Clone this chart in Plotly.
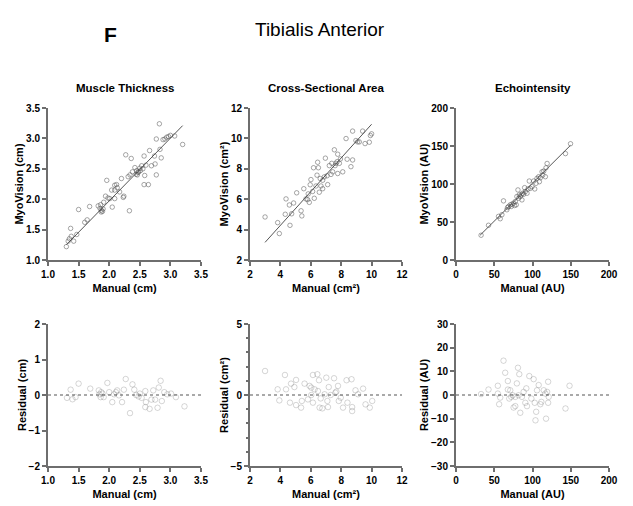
import plotly.graph_objects as go

FONT = "Arial, Liberation Sans, sans-serif"

# ---- Muscle Thickness (cm) ----
mt_manual = [1.30, 1.37, 1.35, 1.38, 1.42, 1.33, 1.47, 1.50, 1.68, 1.60, 1.64, 1.82, 1.85, 1.87,
             1.91, 1.96, 1.94, 1.98, 2.01, 2.05, 2.04, 2.09, 2.12, 2.13, 2.17, 2.23, 2.24, 2.20,
             2.27, 2.33, 2.36, 2.38, 2.42, 2.45, 2.47, 2.50, 2.53, 2.57, 2.58, 2.57, 2.64, 2.66,
             2.69, 2.74, 2.75, 2.77, 2.77, 2.82, 2.83, 2.85, 2.88, 2.91, 2.94, 2.97, 3.00, 3.07,
             3.20, 2.31, 2.34, 2.09, 1.90, 1.86, 2.09, 2.44, 2.48, 2.46, 2.51, 1.87, 1.89, 2.55, 2.60]
mt_myo = [1.22, 1.52, 1.35, 1.39, 1.31, 1.31, 1.42, 1.83, 1.88, 1.62, 1.66, 1.89, 1.85, 1.79,
          1.95, 2.31, 2.05, 2.02, 2.01, 1.87, 2.15, 2.15, 2.24, 2.19, 2.12, 2.03, 2.05, 2.34,
          2.73, 1.81, 2.67, 2.45, 2.52, 2.47, 2.44, 2.51, 2.55, 2.71, 2.39, 2.24, 2.24, 2.80,
          2.55, 2.71, 2.58, 2.40, 2.99, 3.24, 2.82, 2.68, 2.98, 2.99, 3.02, 3.03, 3.05, 3.04,
          2.90, 2.37, 2.40, 2.01, 1.84, 1.91, 2.23, 2.41, 2.45, 2.40, 2.47, 1.82, 1.80, 2.50, 2.56]
mt_fit_x = [1.30, 3.20]
mt_fit_y = [1.25, 3.21]
mt_res_x = [1.31, 1.37, 1.40, 1.45, 1.50, 1.69, 1.83, 1.86, 1.89, 1.91, 1.97, 2.00, 2.05, 2.08,
            2.11, 2.13, 2.16, 2.21, 2.24, 2.27, 2.34, 2.38, 2.41, 2.44, 2.48, 2.50, 2.53, 2.59,
            2.59, 2.60, 2.66, 2.69, 2.72, 2.75, 2.79, 2.81, 2.84, 2.86, 2.90, 2.95, 3.01, 3.09,
            3.23, 1.84, 1.87]
mt_res = [-0.08, 0.15, -0.12, -0.06, 0.32, 0.18, 0.13, -0.06, 0.04, -0.06, 0.34, 0.08, -0.20, 0.02,
          0.08, 0.13, -0.01, -0.20, 0.15, 0.45, -0.51, 0.30, 0.15, 0.00, -0.04, 0.04, -0.08, 0.11,
          -0.34, -0.20, -0.39, -0.13, 0.13, -0.13, -0.36, 0.21, 0.40, -0.17, 0.08, 0.02, 0.04, -0.06,
          -0.32, 0.02, 0.08]

# ---- Cross-Sectional Area (cm²) ----
csa_manual = [2.99, 3.82, 3.93, 4.32, 4.37, 4.59, 4.87, 4.74, 4.63, 5.07, 5.36, 5.41, 5.54, 5.79,
              5.83, 5.96, 6.01, 6.12, 6.18, 6.34, 6.41, 6.45, 6.50, 6.56, 6.67, 6.62, 6.78, 6.89,
              6.96, 7.07, 7.22, 7.33, 7.44, 7.55, 7.60, 7.66, 7.77, 7.73, 7.88, 7.95, 7.77, 8.10,
              8.32, 8.39, 8.64, 8.75, 8.75, 8.97, 9.08, 9.41, 9.57, 9.85, 9.92, 10.00, 9.19, 6.23,
              5.90, 5.68, 7.11, 7.38, 6.78]
csa_myo = [4.83, 4.46, 3.74, 5.01, 6.02, 5.62, 5.75, 5.04, 4.28, 6.42, 5.24, 4.90, 6.69, 5.97,
           6.35, 6.95, 7.29, 6.51, 8.07, 6.87, 7.58, 8.43, 8.07, 6.46, 6.87, 7.36, 7.25, 7.47,
           8.70, 7.54, 8.21, 7.63, 7.80, 9.25, 8.21, 8.36, 8.96, 8.47, 8.36, 8.65, 7.69, 7.80,
           9.99, 8.63, 8.14, 10.48, 8.58, 9.86, 9.77, 10.48, 9.66, 9.75, 10.19, 10.30, 9.77, 6.06,
           5.79, 6.02, 6.96, 8.36, 6.69]
csa_fit_x = [2.99, 10.00]
csa_fit_y = [3.16, 10.93]
csa_res_x = [2.99, 3.82, 3.93, 4.30, 4.37, 4.63, 4.70, 4.92, 5.03, 5.03, 5.36, 5.41, 5.59, 5.81,
             5.92, 6.03, 6.14, 6.14, 6.25, 6.43, 6.47, 6.54, 6.58, 6.65, 6.76, 6.91, 7.02, 7.09,
             7.18, 7.31, 7.53, 7.62, 7.68, 7.79, 7.84, 7.97, 8.12, 8.35, 8.41, 8.68, 8.72, 8.72,
             8.94, 9.11, 9.44, 9.60, 9.88, 10.04, 7.13, 6.03]
csa_res = [1.69, 0.40, -0.38, 1.41, 0.40, -0.54, 0.80, 0.56, 1.06, -0.71, -0.89, -0.42, 0.80, -0.31,
           0.64, 0.52, 1.41, -0.54, 0.40, 1.46, 0.28, 1.04, -0.89, -0.24, -0.94, 0.05, 1.22, -0.42,
           0.56, 0.00, 1.18, 0.16, 0.24, 0.64, -0.42, -0.19, -0.89, 1.04, -0.54, 1.11, -0.85, -1.13,
           0.33, 0.05, 0.45, -0.66, -0.89, -0.42, -0.85, 0.00]

# ---- Echointensity (AU) ----
ei_manual = [32.8, 42.5, 55.6, 57.8, 62.1, 66.5, 68.7, 70.9, 73.1, 75.3, 77.5, 78.8, 81.0, 81.8,
             84.0, 85.3, 86.2, 88.4, 90.6, 92.8, 94.1, 95.8, 97.2, 99.4, 101.5, 102.9, 104.6, 105.9,
             108.1, 110.3, 112.5, 114.7, 116.8, 117.7, 119.1, 143.1, 149.7, 72.2, 76.6, 82.7, 89.7,
             109.0, 113.4, 60.0, 67.4, 79.6, 87.1]
ei_myo = [32.6, 45.7, 57.4, 54.3, 77.8, 66.1, 70.4, 72.6, 73.5, 74.8, 77.0, 72.6, 92.2, 81.3,
          83.5, 85.7, 79.1, 86.5, 90.0, 87.8, 93.5, 103.9, 94.3, 96.5, 103.9, 93.5, 100.9, 107.4,
          109.6, 108.3, 116.1, 117.0, 109.6, 121.3, 127.0, 140.0, 153.0, 70.4, 71.7, 85.7, 95.2,
          103.0, 111.7, 59.6, 69.1, 83.5, 87.8]
ei_fit_x = [31.5, 149.7]
ei_fit_y = [32.6, 150.9]
ei_res_x = [32.8, 42.5, 54.7, 54.7, 56.4, 57.8, 62.1, 64.3, 67.8, 67.8, 69.6, 70.9, 74.0, 75.3,
            77.5, 79.6, 81.0, 82.7, 84.0, 86.2, 88.4, 90.6, 91.9, 92.8, 95.8, 98.5, 101.5, 102.9,
            103.9, 104.8, 105.9, 108.1, 110.3, 111.6, 114.7, 116.8, 117.7, 119.1, 120.4, 120.4,
            121.2, 143.1, 148.4, 72.2, 77.5, 81.8]
ei_res = [0.4, 2.3, 3.9, 0.6, -3.9, -1.1, 14.5, 9.4, 5.9, 2.3, -1.5, 2.0, -0.1, -5.3,
          -4.7, 4.9, 11.5, 8.8, -7.5, -0.8, 1.3, -3.3, 2.8, -4.7, 8.0, -1.5, 6.7, -3.3,
          -10.7, -7.1, 2.0, 4.2, -3.9, -2.9, 2.0, 0.6, -10.0, 1.3, 5.6, -3.3,
          -0.8, -5.7, 3.9, -0.8, -0.8, -0.1]

panels = [
    dict(title="Muscle Thickness", x=mt_manual, y=mt_myo, fx=mt_fit_x, fy=mt_fit_y,
         rx=mt_res_x, ry=mt_res, xr=[1.0, 3.5], xt=[1.0, 1.5, 2.0, 2.5, 3.0, 3.5], xf=".1f",
         yr=[1.0, 3.5], yt=[1.0, 1.5, 2.0, 2.5, 3.0, 3.5], yf=".1f",
         rr=[-2, 2], rt=[-2, -1, 0, 1, 2], unit="cm", xdom=[48, 201]),
    dict(title="Cross-Sectional Area", x=csa_manual, y=csa_myo, fx=csa_fit_x, fy=csa_fit_y,
         rx=csa_res_x, ry=csa_res, xr=[2, 12], xt=[2, 4, 6, 8, 10, 12], xf="d",
         yr=[2, 12], yt=[2, 4, 6, 8, 10, 12], yf="d",
         rr=[-5, 5], rt=[-5, 0, 5], unit="cm²", xdom=[250, 402]),
    dict(title="Echointensity", x=ei_manual, y=ei_myo, fx=ei_fit_x, fy=ei_fit_y,
         rx=ei_res_x, ry=ei_res, xr=[0, 200], xt=[0, 50, 100, 150, 200], xf="d",
         yr=[0, 200], yt=[0, 50, 100, 150, 200], yf="d",
         rr=[-30, 30], rt=[-30, -20, -10, 0, 10, 20, 30], unit="AU", xdom=[456, 609]),
]

W, H = 633, 506
OFF = 8  # page body margin shifts the figure by this many pixels
AXC = "#6e6e6e"
fig = go.Figure()
layout = {}
annotations = []
shapes = []


def px_x(v):
    return (v - OFF) / W


def px_y(v):
    return 1 - (v - OFF) / H


def axis_style(rng, tv, fmt, dom):
    return dict(range=rng, tickvals=tv, tickformat=fmt, domain=dom, showline=True,
                linecolor=AXC, linewidth=2, ticks="outside", ticklen=4, tickwidth=1.5,
                tickcolor=AXC, showgrid=False, zeroline=False, automargin=False,
                tickfont=dict(family=FONT, size=10, color="black", weight="bold"))


top_dom = [px_y(260), px_y(108)]
bot_dom = [px_y(466), px_y(324)]

for i, p in enumerate(panels):
    xd = [px_x(p["xdom"][0]), px_x(p["xdom"][1])]
    # top scatter: axis index i+1 ; bottom residual: axis index i+4
    for row, idx in ((0, i + 1), (1, i + 4)):
        xa = "xaxis" if idx == 1 else f"xaxis{idx}"
        ya = "yaxis" if idx == 1 else f"yaxis{idx}"
        xs = "x" if idx == 1 else f"x{idx}"
        ys = "y" if idx == 1 else f"y{idx}"
        ydom = top_dom if row == 0 else bot_dom
        layout[xa] = axis_style(p["xr"], p["xt"], p["xf"], xd)
        layout[xa]["anchor"] = ys
        layout[xa]["title"] = dict(text=f"Manual ({p['unit']})", standoff=5,
                                   font=dict(family=FONT, size=11, color="black", weight="bold"))
        if row == 0:
            layout[ya] = axis_style(p["yr"], p["yt"], p["yf"], ydom)
            ytitle = f"MyoVision ({p['unit']})"
        else:
            layout[ya] = axis_style(p["rr"], p["rt"], "d", ydom)
            ytitle = f"Residual ({p['unit']})"
            if i == 1:
                layout[ya]["minor"] = dict(dtick=1, ticks="outside", ticklen=2, tickcolor=AXC)
        layout[ya]["anchor"] = xs
        layout[ya]["title"] = dict(text=ytitle, standoff=0,
                                   font=dict(family=FONT, size=11, color="black", weight="bold"))

        if row == 0:
            fig.add_trace(go.Scatter(x=p["fx"], y=p["fy"], mode="lines",
                                     line=dict(color="#555555", width=1),
                                     xaxis=xs, yaxis=ys, showlegend=False))
            fig.add_trace(go.Scatter(x=p["x"], y=p["y"], mode="markers",
                                     marker=dict(symbol="circle-open", size=4.5,
                                                 color="rgba(70,70,70,0.6)", line=dict(width=0.8)),
                                     xaxis=xs, yaxis=ys, showlegend=False))
        else:
            shapes.append(dict(type="line", xref=xs, yref=ys, x0=p["xr"][0], x1=p["xr"][1],
                               y0=0, y1=0, line=dict(color="#555555", width=1.1, dash="dot")))
            fig.add_trace(go.Scatter(x=p["rx"], y=p["ry"], mode="markers",
                                     marker=dict(symbol="circle-open", size=5.5,
                                                 color="rgba(90,90,90,0.25)", line=dict(width=1)),
                                     xaxis=xs, yaxis=ys, showlegend=False))

    annotations.append(dict(text=f"<b>{p['title']}</b>", x=(xd[0] + xd[1]) / 2, y=px_y(88),
                            xref="paper", yref="paper", showarrow=False,
                            xanchor="center", yanchor="middle",
                            font=dict(family=FONT, size=11.5, color="black")))

annotations.append(dict(text="<b>F</b>", x=px_x(110), y=px_y(34), xref="paper", yref="paper",
                        showarrow=False, xanchor="center", yanchor="middle",
                        font=dict(family=FONT, size=21, color="black")))
annotations.append(dict(text="Tibialis Anterior", x=px_x(320), y=px_y(30), xref="paper",
                        yref="paper", showarrow=False, xanchor="center", yanchor="middle",
                        font=dict(family=FONT, size=19, color="black")))

fig.update_layout(**layout)
fig.update_layout(width=W, height=H, margin=dict(l=0, r=0, t=0, b=0),
                  paper_bgcolor="white", plot_bgcolor="white",
                  annotations=annotations, shapes=shapes, font=dict(family=FONT))

fig.write_html("out.html")
